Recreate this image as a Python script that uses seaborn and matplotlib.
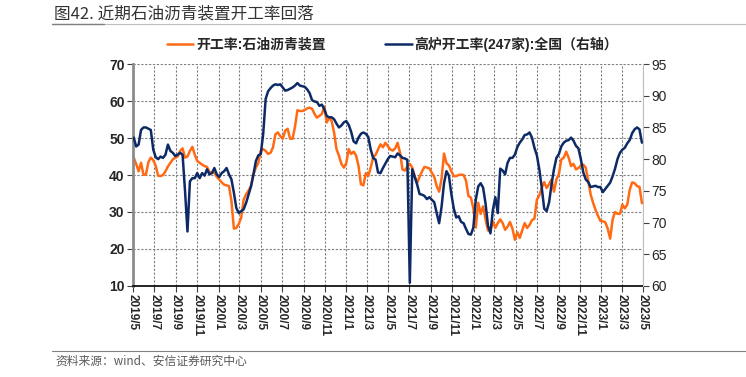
# 石油沥青装置开工率 vs 高炉开工率 chart

import pandas as pd
import numpy as np
import matplotlib
matplotlib.use('Agg')
import matplotlib.pyplot as plt
from matplotlib.lines import Line2D
import seaborn as sns

sns.set_theme(style = 'white')
plt.rcParams['font.family'] = ['Liberation Sans', 'Noto Sans CJK SC', 'DejaVu Sans']
plt.rcParams['axes.unicode_minus'] = False

# Weekly data, first week of 2019/5 to end of 2023/4
start_date = '2019-05-03'

# 开工率:石油沥青装置 (left axis, %)
asphalt_rate = [44.7, 43.0, 41.0, 43.3, 40.1, 40.1, 43.5, 44.7, 44.0, 42.5,
                39.8, 39.7, 40.0, 41.0, 42.3, 43.3, 44.2, 44.7, 45.0, 46.5,
                47.2, 44.7, 45.0, 46.5, 47.6, 45.5, 43.8, 43.3, 42.8, 42.4,
                42.2, 40.8, 40.6, 40.6, 39.5, 38.8, 38.0, 37.4, 37.2, 37.0,
                33.0, 25.5, 25.7, 26.8, 28.5, 33.3, 34.8, 35.8, 37.0, 40.1,
                42.0, 43.3,
                46.5, 47.0, 46.5, 45.7, 46.0, 47.5, 51.0, 51.5, 50.5, 49.8,
                52.0, 52.5, 49.8, 49.8, 53.0, 57.5, 57.3, 57.3, 57.6, 58.0,
                58.2, 57.9, 56.5, 55.5, 56.0, 56.5, 58.5, 54.2, 55.5, 54.6,
                51.5, 47.0, 45.2, 43.0, 42.0, 43.2, 47.0, 45.7, 46.3, 45.3,
                42.5, 37.5, 37.2, 40.5, 39.7, 42.0, 44.8, 45.5, 46.9, 48.3,
                47.5,
                48.7, 47.8, 46.9, 46.6, 47.2, 48.7, 46.0, 41.5, 41.2, 42.3,
                43.0, 42.0, 39.7, 37.9, 39.5, 41.0, 42.2, 42.0, 41.8, 40.6,
                39.5, 37.0, 35.5, 39.0, 45.8, 43.2, 42.6, 41.0, 39.7, 39.7,
                40.0, 40.1, 40.0, 38.5, 34.3, 33.9, 31.0, 25.8, 32.5, 29.5,
                31.5, 28.0, 25.0, 25.0, 27.5, 25.7, 27.0, 28.0, 27.0, 25.2,
                26.0, 27.3,
                25.5, 22.5, 24.5, 23.0, 25.0, 27.0, 25.7, 26.5, 27.8, 28.2,
                33.3, 34.5, 36.5, 38.1, 36.5, 37.5, 38.8, 35.5, 38.8, 40.2,
                44.2, 44.7, 46.3, 44.7, 42.4, 43.0, 41.5, 41.9, 42.5, 42.8,
                42.0, 38.5, 34.8, 32.5, 30.6, 29.0, 27.6, 27.5, 27.2, 25.5,
                22.8, 28.0, 30.0, 29.5, 29.5, 32.0, 31.0, 32.0, 36.0, 38.0,
                37.8, 37.0, 36.8, 32.4]

# 高炉开工率(247家):全国 (right axis, %)
blast_furnace_rate = [83.4, 82.0, 82.3, 84.6, 85.0, 85.0, 84.8, 84.6, 81.5, 80.3,
                      80.0, 80.4, 80.2, 80.7, 82.3, 81.3, 81.0, 80.5, 80.7, 81.0,
                      80.7, 75.0, 68.6, 76.5, 77.0, 77.0, 77.8, 77.0, 77.8, 77.4,
                      78.4, 77.6, 77.8, 78.6, 77.6, 77.2, 77.8, 78.1, 78.6, 77.6,
                      76.8, 74.7, 72.3, 71.5, 71.8, 72.1, 73.1, 74.4, 75.7, 77.6,
                      79.7, 80.6,
                      80.8, 84.0, 89.5, 90.7, 91.2, 91.6, 91.8, 91.7, 91.8, 91.3,
                      90.8, 90.9, 91.1, 91.3, 91.6, 92.0, 91.6, 91.5, 91.4, 91.0,
                      90.4, 89.3, 89.1, 89.0, 88.4, 88.6, 87.9, 86.8, 86.6, 86.6,
                      86.3, 85.6, 85.0, 85.3, 85.8, 86.0, 85.4, 84.3, 82.8, 82.5,
                      83.4, 84.0, 84.2, 84.0, 83.5, 81.5, 80.2, 79.9, 77.9, 77.8,
                      78.6,
                      79.3, 80.0, 80.5, 80.4, 80.3, 80.9, 80.6, 80.2, 80.1, 79.9,
                      60.5, 78.4, 77.2, 76.0, 74.5, 74.4, 74.2, 73.7, 74.0, 73.6,
                      73.2, 71.5, 69.9, 72.5, 76.2, 78.1, 77.4, 74.5, 72.2, 70.8,
                      71.0, 70.1, 69.9, 69.0, 68.2, 68.1, 69.2, 73.6, 75.7, 76.2,
                      75.5, 73.0, 69.5, 68.3, 72.0, 74.0, 71.5, 78.5, 78.2, 77.6,
                      79.4, 80.2,
                      80.2, 80.7, 81.9, 82.6, 83.1, 83.8, 83.9, 84.2, 83.4, 81.8,
                      80.6, 78.4, 75.5, 72.2, 71.8, 73.2, 76.0, 78.4, 80.2, 80.8,
                      82.0, 82.6, 82.9, 83.0, 83.4, 82.9, 82.1, 81.7, 80.0, 77.9,
                      76.8, 76.4, 75.6, 75.7, 75.8, 75.6, 75.6, 74.8, 75.3, 75.8,
                      76.3, 77.3, 78.5, 80.0, 81.0, 81.5, 81.8, 82.5, 83.0, 84.1,
                      84.7, 85.0, 84.7, 82.6]

left_ticks = [10, 20, 30, 40, 50, 60, 70]
right_ticks = [60, 65, 70, 75, 80, 85, 90, 95]
tick_dates = pd.date_range('2019-05-01', '2023-05-01', freq = '2MS')
tick_labels = [f'{d.year}/{d.month}' for d in tick_dates]

chart_df = pd.DataFrame({'date': pd.date_range(start_date, periods = len(asphalt_rate), freq = '7D'),
                         'asphalt': asphalt_rate,
                         'blast': blast_furnace_rate})

orange = '#FF6A13'
navy = '#0D2A66'

fig = plt.figure(figsize = (7.46, 3.77), dpi = 100)
ax = fig.add_axes([0.1783, 0.2414, 0.6836, 0.5888])
ax2 = ax.twinx()

sns.lineplot(ax = ax, data = chart_df, x = 'date', y = 'asphalt',
             color = orange, lw = 1.8, legend = False)
sns.lineplot(ax = ax2, data = chart_df, x = 'date', y = 'blast',
             color = navy, lw = 1.8, legend = False)

# Axes limits and ticks
ax.set_xlim(pd.Timestamp('2019-05-01'), pd.Timestamp('2023-05-01'))
ax.set_ylim(10, 70)
ax2.set_ylim(60, 95)
ax.set_yticks(left_ticks)
ax2.set_yticks(right_ticks)
ax.set_xticks(tick_dates)
ax.set_xticklabels(tick_labels, rotation = -90, fontsize = 8.5, fontweight = 'bold',
                   ha = 'center', va = 'top')
ax.set_yticklabels([str(t) for t in left_ticks], fontsize = 10, fontweight = 'bold')
ax2.set_yticklabels([str(t) for t in right_ticks], fontsize = 10)
ax.set(xlabel = '', ylabel = '')
ax2.set(ylabel = '')

ax.tick_params(axis = 'both', direction = 'out', length = 4, width = 0.8, pad = 2,
               left = True, bottom = True, color = '#404040')
ax2.tick_params(axis = 'y', direction = 'out', length = 4, width = 0.8, pad = 2,
                right = True, color = '#404040')

# Dashed grid
ax.set_axisbelow(True)
ax.grid(True, axis = 'both', linestyle = (0, (2, 1.5)), color = '#7F7F7F', lw = 0.8)

for spine in ['top']:
    ax.spines[spine].set_visible(False)
    ax2.spines[spine].set_visible(False)
ax.spines['left'].set_color('#8C8C8C')
ax.spines['left'].set_linewidth(2)
ax.spines['bottom'].set_color('black')
ax.spines['bottom'].set_linewidth(1.2)
ax2.spines['left'].set_visible(False)
ax2.spines['bottom'].set_visible(False)
ax2.spines['right'].set_color('#BFBFBF')
ax2.spines['right'].set_linewidth(0.8)
ax.spines['right'].set_visible(False)

# Legend
handles = [Line2D([], [], color = orange, lw = 1.8),
           Line2D([], [], color = navy, lw = 1.8)]
labels = ['开工率:石油沥青装置', '高炉开工率(247家):全国（右轴）']
fig.legend(handles, labels, loc = 'center left', bbox_to_anchor = (0.207, 0.883),
           ncol = 2, frameon = False, handlelength = 1.9, handletextpad = 0.2,
           columnspacing = 4.3, prop = {'size': 10, 'weight': 'bold'})

# Title and footer
fig.text(0.073, 0.962, '图42. 近期石油沥青装置开工率回落', fontsize = 12,
         color = '#333333', va = 'center', ha = 'left', family = ['Noto Sans CJK SC'])
fig.add_artist(Line2D([0.07, 1.0], [0.936, 0.936], color = '#BFBFBF', lw = 0.8))
fig.add_artist(Line2D([0.07, 0.14], [0.936, 0.936], color = '#808080', lw = 1.0))
fig.add_artist(Line2D([0.07, 1.0], [0.069, 0.069], color = '#808080', lw = 0.8))
fig.text(0.074, 0.042, '资料来源：wind、安信证券研究中心', fontsize = 8.5,
         color = '#595959', va = 'center', ha = 'left', style = 'italic',
         family = ['Noto Sans CJK SC', 'DejaVu Sans'])

fig.savefig('out.png', dpi = 100)
plt.close()
